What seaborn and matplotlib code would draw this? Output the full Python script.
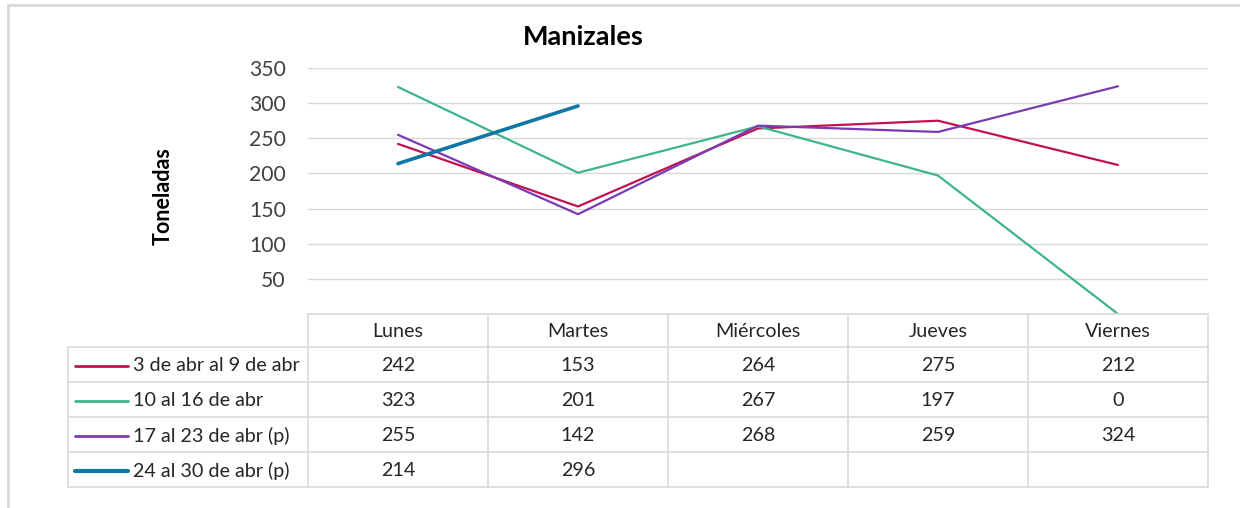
import numpy as np
import pandas as pd
import matplotlib
matplotlib.use("Agg")
import matplotlib.pyplot as plt
import seaborn as sns

dias = ["Lunes", "Martes", "Miércoles", "Jueves", "Viernes"]
series = ["3 de abr al 9 de abr", "10 al 16 de abr", "17 al 23 de abr (p)", "24 al 30 de abr (p)"]
sem1 = [242, 153, 264, 275, 212]
sem2 = [323, 201, 267, 197, 0]
sem3 = [255, 142, 268, 259, 324]
sem4 = [214, 296, None, None, None]
colores = ["#C0124F", "#3DB489", "#7B3AB4", "#0E77A6"]
grosores = [1.6, 1.6, 1.6, 2.6]
yticks = [50, 100, 150, 200, 250, 300, 350]

sns.set_theme(style="white")
plt.rcParams["font.family"] = ["Lato", "DejaVu Sans"]

W, H = 1240, 508
fig = plt.figure(figsize=(W / 100, H / 100), dpi=100)

# area del grafico (pixeles del original)
x0, x1 = 308, 1208
y_top, y_zero = 68, 314
ax = fig.add_axes([x0 / W, 1 - y_zero / H, (x1 - x0) / W, (y_zero - y_top) / H])

valores = [sem1, sem2, sem3, sem4]
for nombre, vals, c, lw in zip(series, valores, colores, grosores):
    df = pd.DataFrame({"x": np.arange(len(dias)), "y": pd.array(vals, dtype="Float64").astype(float)})
    sns.lineplot(data=df, x="x", y="y", ax=ax, color=c, linewidth=lw, label=nombre, legend=False)

ax.set_xlim(-0.5, len(dias) - 0.5)
ax.set_ylim(0, 350)
ax.set_yticks(yticks)
ax.set_yticklabels([str(t) for t in yticks], fontsize=15.2, color="#404040")
ax.set_xticks([])
ax.set_xlabel("")
ax.set_ylabel("")
ax.tick_params(axis="y", length=0, pad=16)
for t in yticks:
    ax.axhline(t, color="#D9D9D9", linewidth=1, zorder=0)
for s in ax.spines.values():
    s.set_visible(False)
ax.patch.set_alpha(0)

fig.text(583 / W, 1 - 37 / H, "Manizales", ha="center", va="center",
         fontsize=19.5, fontweight="bold", color="black")
fig.text(163 / W, 1 - 196 / H, "Toneladas", ha="center", va="center",
         rotation=90, fontsize=15.5, fontweight="bold", color="black")

# tabla de datos
tab = fig.add_axes([0, 0, 1, 1])
tab.set_xlim(0, W)
tab.set_ylim(H, 0)
tab.axis("off")
tab.patch.set_alpha(0)

gc = "#D9D9D9"
col_x = [x0 + i * (x1 - x0) / len(dias) for i in range(len(dias) + 1)]
row_y = [314, 347, 382, 417, 452, 487]
# bordes
tab.plot([x0, x1], [row_y[0], row_y[0]], color=gc, lw=1.2)
for y in row_y[1:]:
    tab.plot([68, x1], [y, y], color=gc, lw=1.2)
tab.plot([68, 68], [row_y[1], row_y[-1]], color=gc, lw=1.2)
for x in col_x:
    tab.plot([x, x], [row_y[0], row_y[-1]], color=gc, lw=1.2)

fs = 14.2
for i, d in enumerate(dias):
    cx = (col_x[i] + col_x[i + 1]) / 2
    tab.text(cx, (row_y[0] + row_y[1]) / 2 + 1, d, ha="center", va="center",
             fontsize=fs, color="#262626")

for r, (nombre, vals, c, lw) in enumerate(zip(series, valores, colores, grosores)):
    cy = (row_y[r + 1] + row_y[r + 2]) / 2 + 1
    tab.plot([75, 128], [cy, cy], color=c, lw=lw + 0.4, solid_capstyle="round")
    tab.text(133, cy, nombre, ha="left", va="center", fontsize=fs, color="#262626")
    for i, v in enumerate(vals):
        if v is not None:
            cx = (col_x[i] + col_x[i + 1]) / 2
            tab.text(cx, cy, str(v), ha="center", va="center", fontsize=fs, color="#262626")

# borde del recuadro
tab.plot([8, 8], [5, H], color="#D9D9D9", lw=2)
tab.plot([8, W], [5, 5], color="#D9D9D9", lw=2)

fig.savefig("out.png", dpi=100, facecolor="white")
